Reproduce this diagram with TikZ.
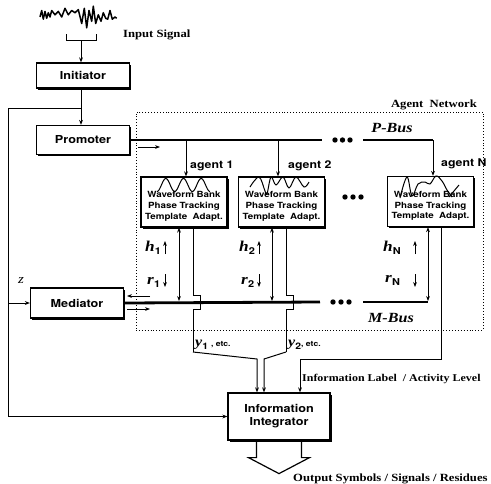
\documentclass[tikz,border=0pt]{standalone}
\usepackage{fontspec}
\setmainfont{Liberation Serif}[FakeStretch=1.15]
\setsansfont{TeX Gyre Heros}[FakeStretch=1.15]
\usetikzlibrary{arrows.meta,shadows}

\tikzset{
  >={Stealth[length=5pt,width=3.8pt]},
  wire/.style={line width=1pt},
  bus/.style={line width=2.8pt},
  blk/.style={draw, line width=1.2pt, fill=white, inner sep=0pt, align=center,
    drop shadow={shadow xshift=1.5pt, shadow yshift=-1.5pt, opacity=1, fill=black},
    font=\sffamily\bfseries\fontsize{11}{13}\selectfont},
  agentbox/.style={blk, minimum width=86pt, minimum height=50pt},
  agtxt/.style={font=\sffamily\bfseries\fontsize{8.5}{10.8}\selectfont, align=center, inner sep=0pt},
  aglab/.style={font=\sffamily\bfseries\fontsize{10.7}{12}\selectfont, inner sep=0pt, anchor=base west},
  serlab/.style={font=\bfseries\fontsize{11}{13}\selectfont, inner sep=0pt},
  buslab/.style={font=\bfseries\itshape\fontsize{14}{14}\selectfont, inner sep=0pt},
  hrl/.style={inner sep=0pt, anchor=base west},
}
\newcommand{\hrlab}[2]{\textbf{\textit{\fontsize{15}{15}\selectfont #1}}\raisebox{-3.5pt}{\sffamily\bfseries\fontsize{9.5}{10}\selectfont #2}}

\begin{document}
\begin{tikzpicture}[x=1pt,y=-1pt]
\useasboundingbox (0,0) rectangle (491,483);

% input signal
\draw[line width=1.5pt, line join=round] plot coordinates {(40,17) (41.7,10.5) (43.3,19.2) (45,11.4) (46.7,18.3) (48.3,12.7) (50,17) (51.7,10.5) (55,14.8) (58.3,11.4) (61.7,17) (65,8.3) (68.3,14.8) (71.7,10.5) (75,12.7) (78.3,9.6) (81.7,23.5) (84.3,8.3) (86.7,27.8) (89,10.5) (91.7,21.3) (93.3,6.2) (95.7,23.5) (98.3,14.8) (101,21.3) (103.3,12.7) (105.7,18.3) (107.7,19.2) (110,10.5) (112.3,19.2) (115,17) (116.7,18.3)};
\draw[wire] (66,34) -- (66,40) -- (96,40) -- (96,34);
\coordinate (brk) at (81,40);
\node[serlab, anchor=base west] (insig) at (123,37) {Input Signal};

% main blocks
\node[blk, minimum width=93pt, minimum height=25pt] (init) at (83,75.5) {Initiator};
\node[blk, minimum width=93pt, minimum height=29pt] (prom) at (83,140) {Promoter};
\node[blk, minimum width=93pt, minimum height=30pt] (med) at (77,303) {Mediator};
\node[blk, minimum width=102pt, minimum height=47pt] (integ) at (279,416.5) {Information\\Integrator};

\draw[wire,->] (brk) -- (brk |- init.north);
\draw[wire,->] (brk |- init.south) -- (brk |- prom.north);
\coordinate (fb) at (81,108);
\coordinate (lft) at (8,108);
\draw[wire,->] (fb) -- (lft) |- (integ.west);
\draw[wire,->] (lft |- med.west) -- (med.west);
\node[font=\itshape\fontsize{13}{13}\selectfont, inner sep=0pt] (zlab) at (21,281) {z};

% agent network frame
\node[draw, dotted, line width=0.9pt, minimum width=347pt, minimum height=218pt, inner sep=0pt] (net) at (309.5,221) {};
\node[serlab, anchor=base east] (netlab) at (477,107) {Agent\ \ Network};

% agents
\node[agentbox] (ag1) at (184,202) {};
\node[agentbox] (ag2) at (281.5,202) {};
\node[agentbox] (agN) at (430.5,201.5) {};
\foreach \a in {ag1,ag2,agN}
  \node[agtxt] (\a txt) at ([yshift=-4.5pt]\a.center) {Waveform Bank\\Phase Tracking\\Template\ \ Adapt.};
\draw[wire] plot[domain=0:1, samples=80, smooth] ({157+53*\x},{185+6.5*cos(3*360*\x)});
\draw[wire] plot[smooth, tension=0.6] coordinates {(250,187) (259,177) (265,191) (267,194) (271,177) (276,185) (283,177) (289,188) (296,177) (304,187) (309,182)};
\draw[wire] plot[smooth, tension=0.6] coordinates {(400,198) (407,177) (412,196) (418,184) (425,182) (430,184) (436,176) (442,181) (447,190) (452,197)};
\draw[wire] (449,197) -- (459,185);
\foreach \x in {345,353,361} \fill (\x,197) circle (2.7pt);

% P-Bus
\coordinate (pb1) at (322,140);
\coordinate (pb2) at (363,140);
\coordinate (pbN) at (433,140);
\coordinate (p1) at (186,140);
\coordinate (p2) at (278,140);
\draw[bus] (prom.east) -- (pb1);
\draw[bus] (pb2) -- (pbN);
\foreach \x in {335,342.5,350} \fill (\x,140) circle (2.7pt);
\node[buslab] (pbus) at (392,128) {P-Bus};
\draw[wire,->] (p1) -- (p1 |- ag1.north);
\draw[wire,->] (p2) -- (p2 |- ag2.north);
\draw[wire,->] (pbN) -- (pbN |- agN.north);
\node[aglab] (ag1lab) at (190,168) {agent 1};
\node[aglab] (ag2lab) at (288,168) {agent 2};
\node[aglab] (agNlab) at (441,166) {agent N};
\coordinate (pa1) at (138,147);
\coordinate (pa2) at (160,147);
\draw[wire,->] (pa1) -- (pa2);

% M-Bus
\coordinate (mb1) at (320,302);
\coordinate (mb2) at (363,302);
\coordinate (m1) at (179,302);
\coordinate (m2) at (272,302);
\coordinate (mN) at (428,302);
\draw[bus] (med.east) -- (mb1);
\draw[bus] (mb2) -- (mN);
\foreach \x in {333,341,349} \fill (\x,302) circle (2.7pt);
\node[buslab] (mbus) at (391,317.5) {M-Bus};
\coordinate (ma1) at (150,296);
\coordinate (ma2) at (127,296);
\coordinate (mc1) at (127,309);
\coordinate (mc2) at (150,309);
\draw[wire,->] (ma1) -- (ma2);
\draw[wire,->] (mc1) -- (mc2);

% h / r links
\draw[wire,<->,shorten >=1pt] (m1 |- ag1.south) -- (m1);
\draw[wire,<->,shorten >=1pt] (m2 |- ag2.south) -- (m2);
\draw[wire,<->,shorten >=1pt] (mN |- agN.south) -- (mN);
\node[hrl] (h1lab) at (145,251) {\hrlab{h}{1}};
\node[hrl] (r1lab) at (147,284) {\hrlab{r}{1}};
\node[hrl] (h2lab) at (239,251) {\hrlab{h}{2}};
\node[hrl] (r2lab) at (241,284) {\hrlab{r}{2}};
\node[hrl] (hNlab) at (383,251) {\hrlab{h}{N}};
\node[hrl] (rNlab) at (385,282) {\hrlab{r}{N}};
\foreach \x in {165,259,415} {
  \draw[wire,->] (\x,254) -- ++(0,-13);
  \draw[wire,->] (\x,274) -- ++(0,13);
}

% outputs y
\coordinate (y1) at (193,352);
\coordinate (y2) at (286,352);
\coordinate (yN) at (441,359);
\coordinate (i1) at (257,359);
\coordinate (i2) at (264,359);
\coordinate (i3) at (300,359);
\draw[wire] (y1 |- ag1.south) -- ([yshift=7pt]y1 |- m1) -- ++(7,0) -- ++(0,14) -- ++(-7,0) -- (y1);
\draw[wire] (y2 |- ag2.south) -- ([yshift=7pt]y2 |- m2) -- ++(7,0) -- ++(0,14) -- ++(-7,0) -- (y2);
\draw[wire,->] (y1) -- (i1) -- (i1 |- integ.north);
\draw[wire,->] (y2) -- (i2) -- (i2 |- integ.north);
\draw[wire,->] (yN |- agN.south) -- (yN) -- (i3) -- (i3 |- integ.north);
\node[hrl] (y1lab) at (195,346) {\textbf{\textit{\fontsize{14}{14}\selectfont y}}\raisebox{-3.5pt}{\sffamily\bfseries\fontsize{9}{10}\selectfont 1}\ {\sffamily\bfseries\fontsize{7.5}{8}\selectfont , etc.}};
\node[hrl] (y2lab) at (288,346) {\textbf{\textit{\fontsize{14}{14}\selectfont y}}\raisebox{-3.5pt}{\sffamily\bfseries\fontsize{9}{10}\selectfont 2}{\sffamily\bfseries\fontsize{7.5}{8}\selectfont , etc.}};
\node[serlab, anchor=base west, font=\bfseries\fontsize{10.4}{12}\selectfont] (infolab) at (302,381) {Information Label\ \ / Activity Level};

% output arrow
\draw[line width=1.2pt] ([xshift=-22.5pt]integ.south) -- ++(0,17) -- ++(-8,0) -- ++(30.5,16) -- ++(30.5,-16) -- ++(-8,0) -- ([xshift=22.5pt]integ.south);
\node[serlab, anchor=base west] (outlab) at (293,481) {Output Symbols / Signals / Residues};
\end{tikzpicture}
\end{document}
